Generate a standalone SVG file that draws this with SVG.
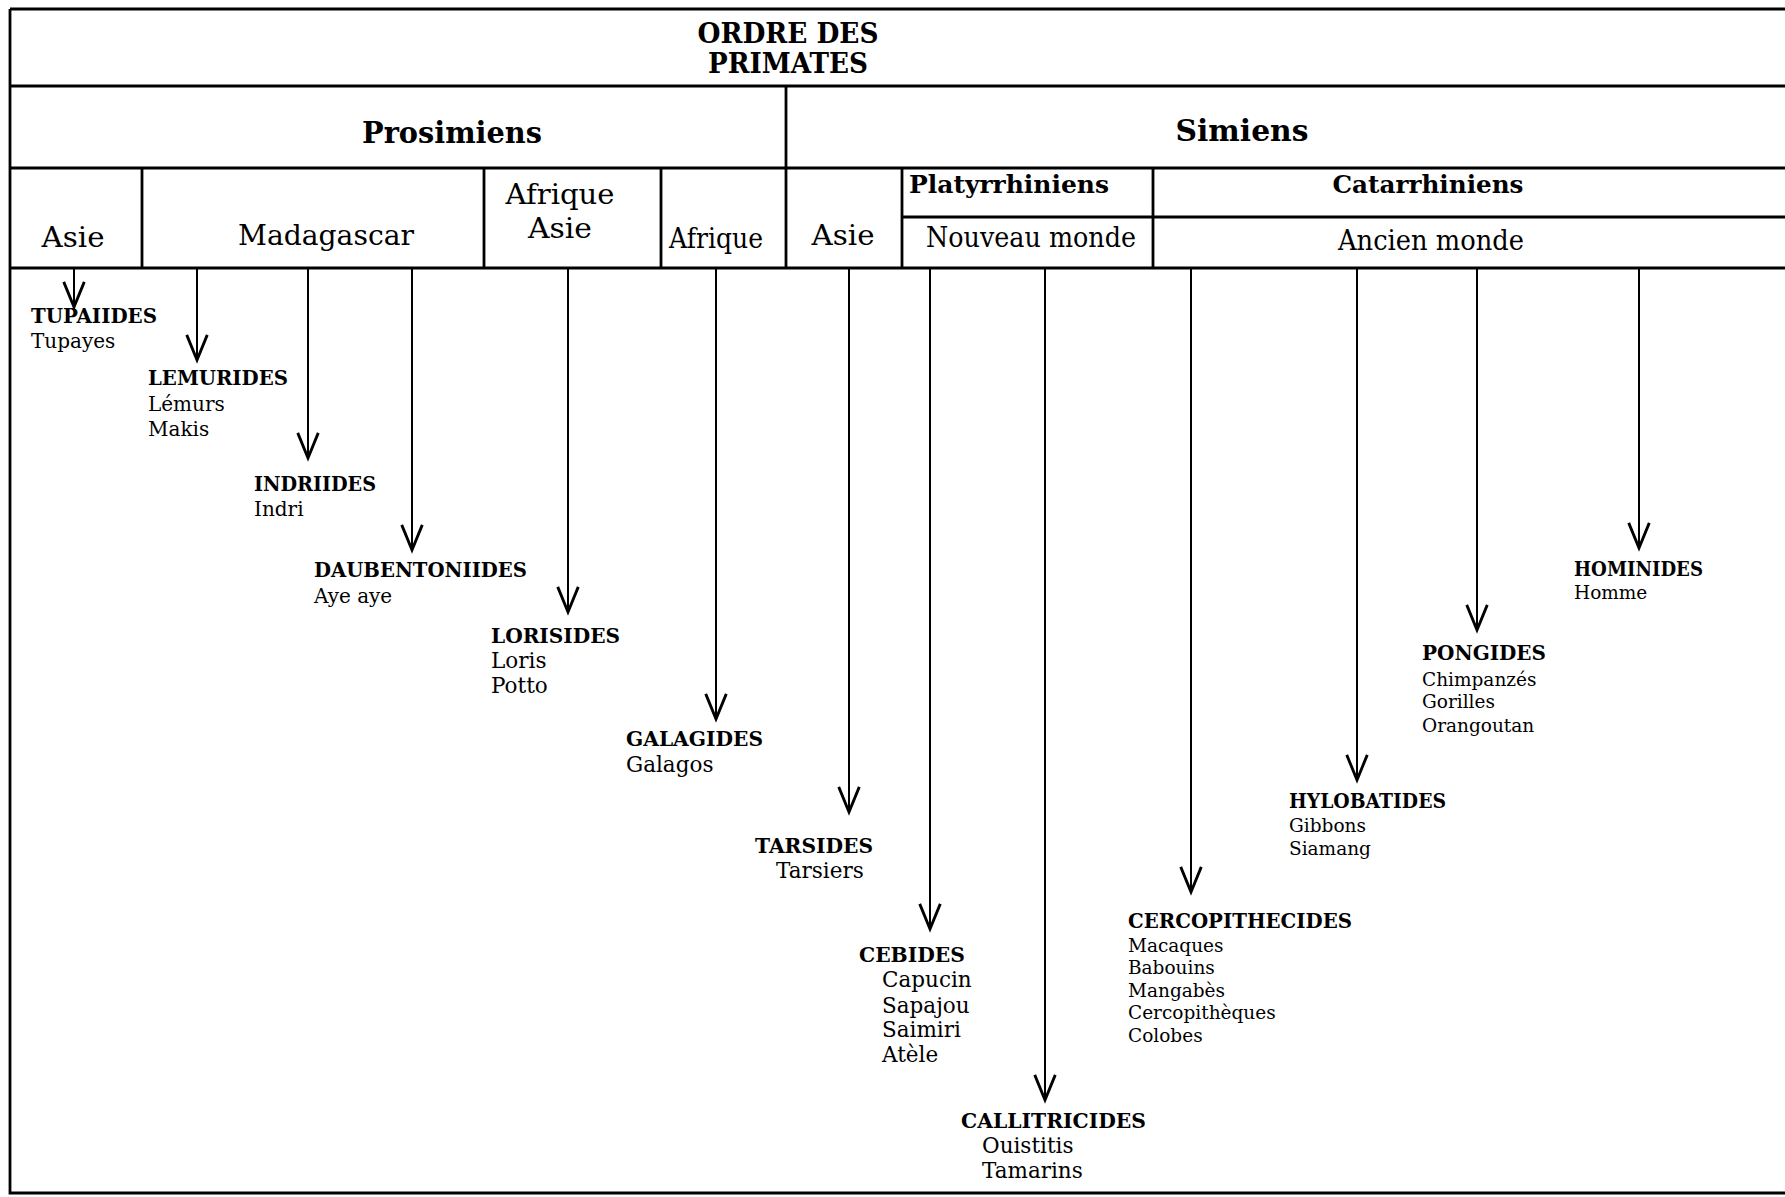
<svg xmlns="http://www.w3.org/2000/svg" width="1785" height="1197" viewBox="0 0 1785 1197">
<style>
text{font-family:"DejaVu Serif","Liberation Serif",serif;fill:#000}
.t{font-weight:bold;font-size:27px;text-anchor:middle}
.h{font-weight:bold;font-size:29px;text-anchor:middle}
.s{font-size:27px;text-anchor:middle}
.sb{font-weight:bold;font-size:25px;text-anchor:middle}
.n{font-weight:bold;font-size:20px}
.l{font-size:20px}
.lm{font-size:21.5px}
.ls{font-size:18.5px}
.frame{stroke:#000;stroke-width:2.8;fill:none}
.arr{stroke:#000;stroke-width:2;fill:none;marker-end:url(#v)}
</style>
<defs>
<marker id="v" markerUnits="userSpaceOnUse" markerWidth="40" markerHeight="40" refX="0" refY="0" viewBox="-30 -15 35 30" orient="auto" overflow="visible">
<path d="M-22,-9 L0,0 L-22,9" fill="none" stroke="#000" stroke-width="2.5" stroke-linejoin="miter"/>
</marker>
</defs>
<rect width="1785" height="1197" fill="#fff"/>
<g id="table">
<path class="frame" d="M10,9 H1785 M10,9 V1193 H1785 M10,86 H1785 M10,168 H1785 M902,217 H1785 M10,268 H1785 M786,86 V268 M142,168 V268 M484,168 V268 M661,168 V268 M902,168 V268 M1153,168 V268"/>
<text class="t" x="788" y="43" textLength="181" lengthAdjust="spacingAndGlyphs">ORDRE DES</text>
<text class="t" x="788" y="73" textLength="160" lengthAdjust="spacingAndGlyphs">PRIMATES</text>
<text class="h" x="452" y="143" textLength="180" lengthAdjust="spacingAndGlyphs">Prosimiens</text>
<text class="h" x="1242" y="141" textLength="133" lengthAdjust="spacingAndGlyphs">Simiens</text>
<text class="s" x="73" y="247" textLength="63" lengthAdjust="spacingAndGlyphs">Asie</text>
<text class="s" x="326" y="245" textLength="176" lengthAdjust="spacingAndGlyphs">Madagascar</text>
<text class="s" x="560" y="204" textLength="109" lengthAdjust="spacingAndGlyphs">Afrique</text>
<text class="s" x="560" y="238" textLength="64" lengthAdjust="spacingAndGlyphs">Asie</text>
<text class="s" x="716" y="248" font-size="25" textLength="94" lengthAdjust="spacingAndGlyphs">Afrique</text>
<text class="s" x="843" y="245" textLength="63" lengthAdjust="spacingAndGlyphs">Asie</text>
<text class="sb" x="1009" y="193" textLength="200" lengthAdjust="spacingAndGlyphs">Platyrrhiniens</text>
<text class="sb" x="1428" y="193" textLength="191" lengthAdjust="spacingAndGlyphs">Catarrhiniens</text>
<text class="s" x="1031" y="247" font-size="26" textLength="210" lengthAdjust="spacingAndGlyphs">Nouveau monde</text>
<text class="s" x="1431" y="250" font-size="26" textLength="186" lengthAdjust="spacingAndGlyphs">Ancien monde</text>
</g>
<g id="connectors">
<line class="arr" x1="74" y1="268" x2="74" y2="307"/>
<line class="arr" x1="197" y1="268" x2="197" y2="360"/>
<line class="arr" x1="308" y1="268" x2="308" y2="458"/>
<line class="arr" x1="412" y1="268" x2="412" y2="550"/>
<line class="arr" x1="568" y1="268" x2="568" y2="612"/>
<line class="arr" x1="716" y1="268" x2="716" y2="719"/>
<line class="arr" x1="849" y1="268" x2="849" y2="812"/>
<line class="arr" x1="930" y1="268" x2="930" y2="929"/>
<line class="arr" x1="1045" y1="268" x2="1045" y2="1100"/>
<line class="arr" x1="1191" y1="268" x2="1191" y2="892"/>
<line class="arr" x1="1357" y1="268" x2="1357" y2="780"/>
<line class="arr" x1="1477" y1="268" x2="1477" y2="630"/>
<line class="arr" x1="1639" y1="268" x2="1639" y2="548"/>
</g>
<g id="tupaiides">
<text class="n" x="31" y="323" textLength="126" lengthAdjust="spacingAndGlyphs">TUPAIIDES</text>
<text class="l" x="31" y="348">Tupayes</text>
</g>
<g id="lemurides">
<text class="n" x="148" y="385" textLength="140" lengthAdjust="spacingAndGlyphs">LEMURIDES</text>
<text class="l" x="148" y="411">Lémurs</text>
<text class="l" x="148" y="436">Makis</text>
</g>
<g id="indriides">
<text class="n" x="254" y="491" textLength="122" lengthAdjust="spacingAndGlyphs">INDRIIDES</text>
<text class="l" x="254" y="516">Indri</text>
</g>
<g id="daubentoniides">
<text class="n" x="314" y="577" textLength="213" lengthAdjust="spacingAndGlyphs">DAUBENTONIIDES</text>
<text class="l" x="314" y="603">Aye aye</text>
</g>
<g id="lorisides">
<text class="n" x="491" y="643" textLength="129" lengthAdjust="spacingAndGlyphs">LORISIDES</text>
<text class="lm" x="491" y="668">Loris</text>
<text class="lm" x="491" y="693">Potto</text>
</g>
<g id="galagides">
<text class="n" x="626" y="746" textLength="137" lengthAdjust="spacingAndGlyphs">GALAGIDES</text>
<text class="lm" x="626" y="772">Galagos</text>
</g>
<g id="tarsides">
<text class="n" x="755" y="853" textLength="118" lengthAdjust="spacingAndGlyphs">TARSIDES</text>
<text class="lm" x="776" y="878">Tarsiers</text>
</g>
<g id="cebides">
<text class="n" x="859" y="962" textLength="106" lengthAdjust="spacingAndGlyphs">CEBIDES</text>
<text class="lm" x="882" y="987">Capucin</text>
<text class="lm" x="882" y="1013">Sapajou</text>
<text class="lm" x="882" y="1037">Saimiri</text>
<text class="lm" x="882" y="1062">Atèle</text>
</g>
<g id="callitricides">
<text class="n" x="961" y="1128" textLength="185" lengthAdjust="spacingAndGlyphs">CALLITRICIDES</text>
<text class="lm" x="982" y="1153">Ouistitis</text>
<text class="lm" x="982" y="1178">Tamarins</text>
</g>
<g id="cercopithecides">
<text class="n" x="1128" y="928" textLength="224" lengthAdjust="spacingAndGlyphs">CERCOPITHECIDES</text>
<text class="ls" x="1128" y="952">Macaques</text>
<text class="ls" x="1128" y="974">Babouins</text>
<text class="ls" x="1128" y="997">Mangabès</text>
<text class="ls" x="1128" y="1019">Cercopithèques</text>
<text class="ls" x="1128" y="1042">Colobes</text>
</g>
<g id="hylobatides">
<text class="n" x="1289" y="808" textLength="157" lengthAdjust="spacingAndGlyphs">HYLOBATIDES</text>
<text class="ls" x="1289" y="832">Gibbons</text>
<text class="ls" x="1289" y="855">Siamang</text>
</g>
<g id="pongides">
<text class="n" x="1422" y="660" textLength="124" lengthAdjust="spacingAndGlyphs">PONGIDES</text>
<text class="ls" x="1422" y="686">Chimpanzés</text>
<text class="ls" x="1422" y="708">Gorilles</text>
<text class="ls" x="1422" y="732">Orangoutan</text>
</g>
<g id="hominides">
<text class="n" x="1574" y="576" textLength="129" lengthAdjust="spacingAndGlyphs">HOMINIDES</text>
<text class="ls" x="1574" y="599" font-size="19">Homme</text>
</g>
</svg>
